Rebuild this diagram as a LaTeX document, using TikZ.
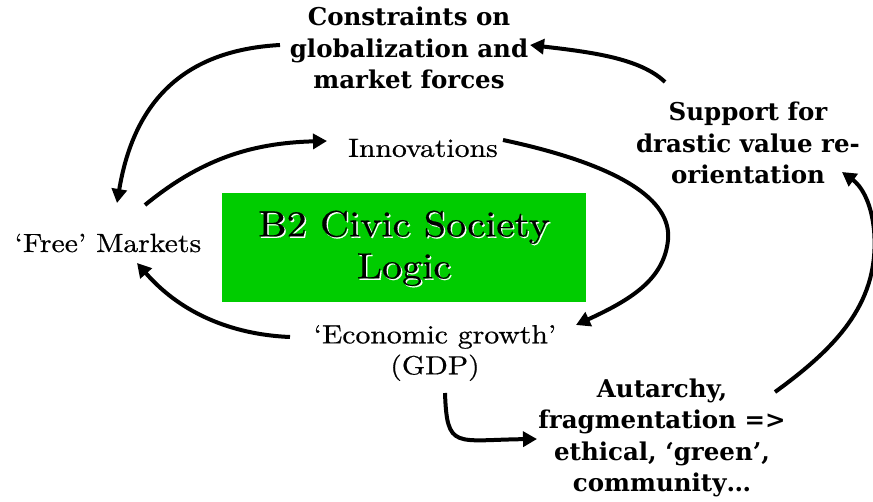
\documentclass[tikz,border=0pt]{standalone}
\usepackage{fontspec}
\usetikzlibrary{arrows.meta}
\newfontfamily\plainf{lmroman10-regular}[Extension=.otf,FakeStretch=1.13,FakeBold=0.6]
\newfontfamily\boxf{lmroman10-regular}[Extension=.otf,FakeStretch=1.1,FakeBold=0.3]
\newfontfamily\boldf{DejaVu Serif}
\definecolor{boxgreen}{RGB}{0,204,0}
\newcommand\shadowtxt[1]{\leavevmode\rlap{\kern1.4pt\raisebox{-1.4pt}{\textcolor{white}{#1}}}#1}
\begin{document}
\begin{tikzpicture}[x=1pt,y=-1pt,
  arr/.style={line width=4pt,-{Triangle[length=14pt,width=15pt]}},
  bt/.style={font=\boldf\bfseries\fontsize{24.5}{31.5}\selectfont,align=center,inner sep=0pt},
  pt/.style={font=\plainf\fontsize{26.3}{31}\selectfont,align=center,inner sep=0pt},
  boxtext/.style={font=\boxf\fontsize{36.5}{42}\selectfont,align=center,inner sep=0pt}]
\useasboundingbox (0,0) rectangle (873,502);
% nodes
\node[bt] (cons) at (409,48) {Constraints on\\globalization and\\market forces};
\node[bt] (supp) at (748,143) {Support for\\drastic value re-\\orientation};
\node[pt] (innov) at (423,148) {Innovations};
\node[pt] (free) at (108,243) {‘Free’ Markets};
\fill[boxgreen] (222,193) rectangle (586,302);
\node[boxtext] (logic) at (404,249) {\shadowtxt{B2 Civic Society}\\\shadowtxt{Logic}};
\node[pt] (econ) at (435,353) {‘Economic growth’\\(GDP)};
\node[bt] (aut) at (662,438) {Autarchy,\\fragmentation =>\\ethical, ‘green’,\\community…};
% connector end points
\coordinate (a1s) at (280,45);  \coordinate (a1e) at (117,203);
\coordinate (a2s) at (665,82);  \coordinate (a2e) at (530,45);
\coordinate (a3s) at (145,205); \coordinate (a3e) at (327,141);
\coordinate (a4s) at (503,140); \coordinate (a4m) at (668,240); \coordinate (a4e) at (576,325);
\coordinate (a5s) at (290,337); \coordinate (a5e) at (137,263);
\coordinate (a6s) at (445,393); \coordinate (a6e) at (537,439);
\coordinate (a7s) at (775,392); \coordinate (a7m) at (874,230); \coordinate (a7e) at (842,172);
% connectors
\draw[arr] (a1s) .. controls (190,50) and (135,95) .. (a1e);
\draw[arr] (a2s) .. controls (640,58) and (590,52) .. (a2e);
\draw[arr] (a3s) .. controls (200,160) and (250,143) .. (a3e);
\draw[arr] (a4s) .. controls (620,165) and (672,200) .. (a4m) .. controls (664,280) and (630,300) .. (a4e);
\draw[arr] (a5s) .. controls (240,335) and (185,318) .. (a5e);
\draw[arr] (a6s) .. controls (447,450) and (455,440) .. (a6e);
\draw[arr] (a7s) .. controls (840,345) and (880,300) .. (a7m) .. controls (871,200) and (860,185) .. (a7e);
\end{tikzpicture}
\end{document}
